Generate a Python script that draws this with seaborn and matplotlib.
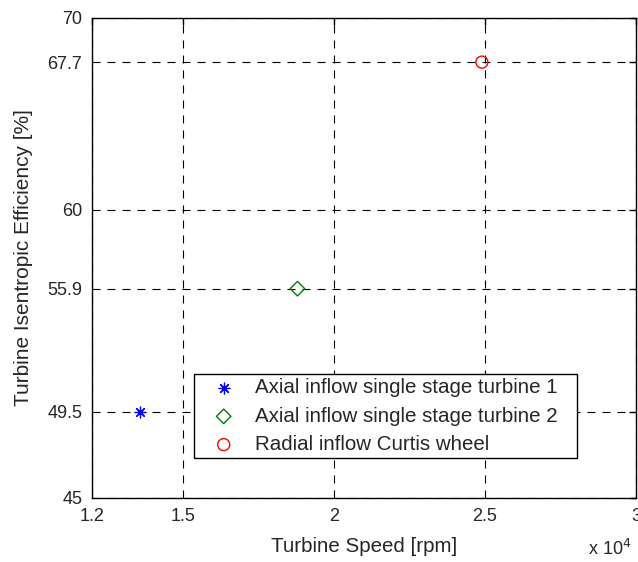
import matplotlib
matplotlib.use('Agg')
import matplotlib.pyplot as plt
import seaborn as sns
import pandas as pd

# Turbine data
labels = ['Axial inflow single stage turbine 1',
          'Axial inflow single stage turbine 2',
          'Radial inflow Curtis wheel']
speed = [1.36e4, 1.88e4, 2.49e4]
efficiency = [49.5, 55.9, 67.7]
colors = ['blue', 'green', 'red']

x_ticks = [1.2e4, 1.5e4, 2e4, 2.5e4, 3e4]
x_ticklabels = ['1.2', '1.5', '2', '2.5', '3']
y_ticks = [45, 49.5, 55.9, 60, 67.7, 70]
y_ticklabels = ['45', '49.5', '55.9', '60', '67.7', '70']

sns.set_style('white')
plt.rcParams['font.family'] = ['Liberation Sans', 'DejaVu Sans']

df = pd.DataFrame({'speed': speed, 'eff': efficiency, 'label': labels})

fig = plt.figure(figsize=(6.38, 5.62), dpi=100)
ax = fig.add_axes([0.144, 0.114, 0.853, 0.854])

# marker style per series (MATLAB-like)
styles = [
    dict(marker=(8, 2, 0), s=60, color=colors[0], linewidth=0.9),
    dict(marker='D', s=55, facecolor='none', edgecolor=colors[1], linewidth=1.0),
    dict(marker='o', s=75, facecolor='none', edgecolor=colors[2], linewidth=1.0),
]
for i, row in df.iterrows():
    sns.scatterplot(x=[row['speed']], y=[row['eff']], ax=ax, label=row['label'],
                    zorder=3, **styles[i])

ax.set_xlim(1.2e4, 3e4)
ax.set_ylim(45, 70)
ax.set_xticks(x_ticks)
ax.set_xticklabels(x_ticklabels, fontsize=13)
ax.set_yticks(y_ticks)
ax.set_yticklabels(y_ticklabels, fontsize=13)
ax.tick_params(direction='in', top=True, right=True, length=5, width=1,
               color='black', pad=7)
ax.grid(True, color='black', linestyle=(0, (7.2, 6.3)), linewidth=0.8)
for s in ax.spines.values():
    s.set_color('black')
    s.set_linewidth(1.0)

ax.set_xlabel('Turbine Speed [rpm]', fontsize=14.8, labelpad=9)
ax.set_ylabel('Turbine Isentropic Efficiency [%]', fontsize=15, labelpad=10)
fig.text(0.99, 0.012, r'x 10$^{4}$', ha='right', va='baseline', fontsize=13)

leg = ax.legend(loc='lower left', bbox_to_anchor=(0.1875, 0.083, 0.704, 0.177),
                mode='expand', fontsize=14.8,
                frameon=True, fancybox=False, edgecolor='black', framealpha=1,
                borderpad=0.2, handlelength=2.5, handletextpad=0.25,
                labelspacing=0.45, borderaxespad=0)
leg.get_frame().set_linewidth(1.0)

plt.savefig('out.png', dpi=100)
